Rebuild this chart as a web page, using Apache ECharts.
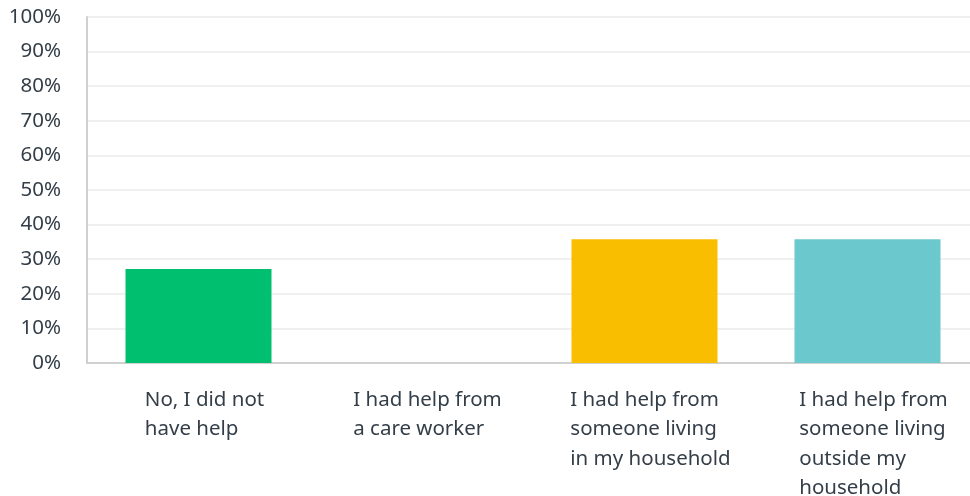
<!DOCTYPE html>
<html>
<head>
<meta charset="utf-8">
<script src="https://cdn.jsdelivr.net/npm/echarts@6/dist/echarts.min.js"></script>
<style>
  html, body { margin: 0; padding: 0; background: #ffffff; }
  #chart { width: 970px; height: 496px; }
</style>
</head>
<body>
<div id="chart"></div>
<script>
// Answer options (line breaks as shown under each bar)
const categories = [
  'No, I did not\nhave help',
  'I had help from\na care worker',
  'I had help from\nsomeone living\nin my household',
  'I had help from\nsomeone living\noutside my\nhousehold'
];
// Share of respondents, percent
const values = [27.2, 0, 35.8, 35.8];
const barColors = ['#00bf6f', '#507cb6', '#f9be00', '#6bc8cd'];
const yTicks = [0, 10, 20, 30, 40, 50, 60, 70, 80, 90, 100];

const textColor = '#333e48';
const fontFamily = '"Noto Sans", "Open Sans", sans-serif';
const fontSize = 20.5;
const lineH = 29.5;

const chart = echarts.init(document.getElementById('chart'), null, { renderer: 'canvas' });

chart.setOption({
  animation: false,
  backgroundColor: '#ffffff',
  grid: {
    left: 87, top: 17, width: 892, height: 346,
    containLabel: false,
    outerBoundsMode: 'none'
  },
  xAxis: {
    type: 'category',
    data: categories,
    axisLine: { show: true, lineStyle: { color: '#d0d0d0', width: 2 } },
    axisTick: { show: false },
    axisLabel: {
      interval: 0,
      margin: 22,
      align: 'center',
      verticalAlign: 'top',
      lineHeight: lineH,
      color: textColor,
      fontFamily: fontFamily,
      fontSize: fontSize,
      formatter: function (v) {
        return v.split('\n').map(function (l) { return '{t|' + l + '}'; }).join('\n');
      },
      rich: {
        // left-aligned lines inside a block centred under each bar
        t: {
          align: 'left', color: textColor, fontFamily: fontFamily,
          fontSize: fontSize, lineHeight: lineH, padding: [0, 0, 0, 12]
        }
      }
    }
  },
  yAxis: {
    type: 'value',
    min: 0,
    max: 100,
    interval: 10,
    axisLine: { show: true, lineStyle: { color: '#d0d0d0', width: 2 } },
    axisTick: { show: false },
    splitLine: { show: true, lineStyle: { color: '#ebebeb', width: 1.5 } },
    axisLabel: {
      margin: 26,
      color: textColor,
      fontFamily: fontFamily,
      fontSize: fontSize,
      formatter: function (v) { return yTicks.indexOf(v) >= 0 ? v + '%' : ''; }
    }
  },
  series: [{
    type: 'bar',
    barWidth: 146,
    data: values.map(function (v, i) {
      return { value: v, itemStyle: { color: barColors[i] } };
    }),
    label: { show: false }
  }]
});
</script>
</body>
</html>
